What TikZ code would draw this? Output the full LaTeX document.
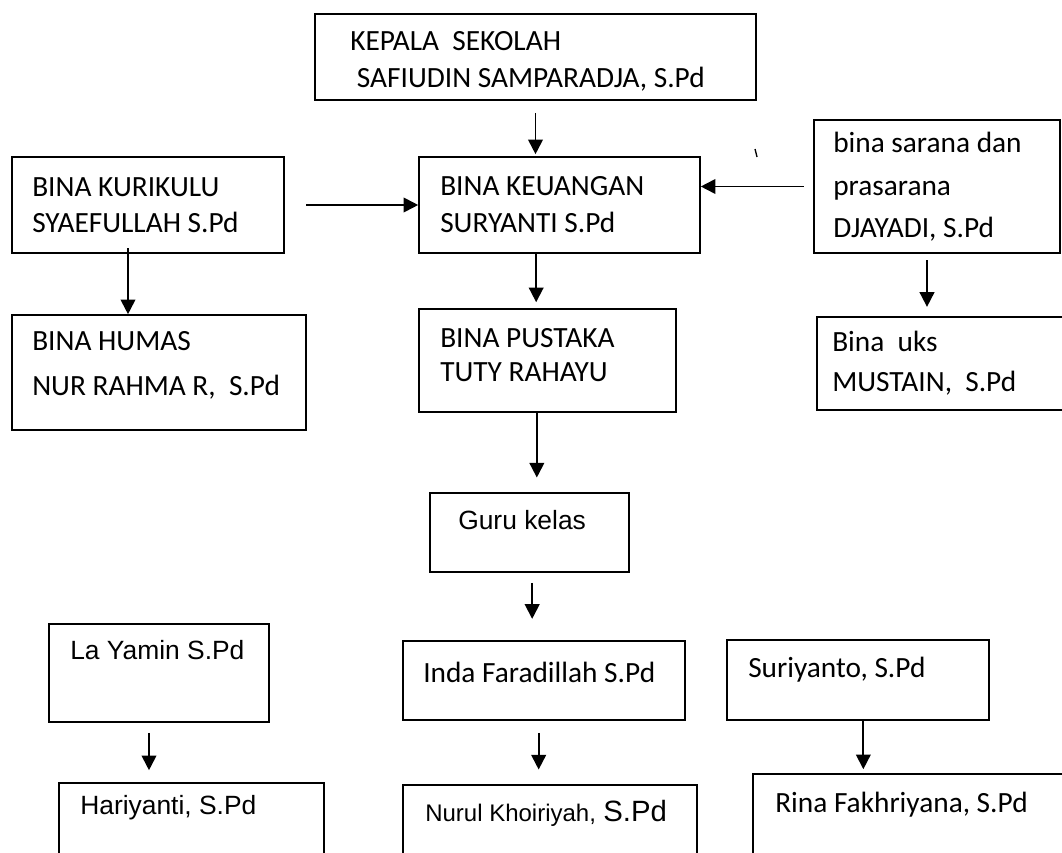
\documentclass[tikz,border=0pt]{standalone}
\usepackage{fontspec}
\setmainfont{Carlito}
\newfontfamily\arialfont{Liberation Sans}
\usetikzlibrary{arrows.meta}
\tikzset{
  orgbox/.style={draw=black,line width=1.2pt,inner sep=0pt},
  orgtext/.style={anchor=west,inner sep=0pt,align=left,font=\fontsize{22}{27.75}\selectfont},
  arialtext/.style={anchor=west,inner sep=0pt,font=\arialfont\fontsize{19.8}{24}\selectfont},
  orgarrow/.style={line width=1.4pt,-{Triangle[width=11pt,length=11pt]}}
}

\begin{document}
\begin{tikzpicture}[x=0.75pt,y=-0.75pt]
% page of 1062 x 852 px, y runs downwards
\useasboundingbox (0,0) rectangle (1062,852);
\clip (0,0) rectangle (1062,852);

% boxes
\node[orgbox,minimum width=330.75pt,minimum height=64.5pt] (kepala) at (535.5,57) {};
\node[orgbox,minimum width=210.75pt,minimum height=72pt] (keuangan) at (559.5,205) {};
\node[orgbox,minimum width=204pt,minimum height=72pt] (kurikulu) at (148,205) {};
\node[orgbox,minimum width=220.5pt,minimum height=86.25pt] (humas) at (159,372.5) {};
\node[orgbox,minimum width=184.5pt,minimum height=99.75pt] (sarana) at (937,186.5) {};
\node[orgbox,minimum width=188.25pt,minimum height=69.75pt] (uks) at (942.5,363.5) {};
\node[orgbox,minimum width=192.75pt,minimum height=77.25pt] (pustaka) at (547.5,360.5) {};
\node[orgbox,minimum width=149.25pt,minimum height=59.25pt] (guru) at (529.5,532.5) {};
\node[orgbox,minimum width=211.5pt,minimum height=59.25pt] (inda) at (544,680.5) {};
\node[orgbox,minimum width=220.5pt,minimum height=71.25pt] (nurul) at (550,832.5) {};
\node[orgbox,minimum width=165pt,minimum height=73.5pt] (layamin) at (159,673) {};
\node[orgbox,minimum width=198.75pt,minimum height=72.75pt] (hariyanti) at (191.5,831.5) {};
\node[orgbox,minimum width=196.5pt,minimum height=60pt] (suriyanto) at (858,680) {};
\node[orgbox,minimum width=236.25pt,minimum height=79.5pt] (rina) at (910.5,827) {};

% texts
\node[orgtext] (kepalatext) at (350,61.5) {KEPALA\ \ SEKOLAH\\\hspace*{5pt}SAFIUDIN SAMPARADJA, S.Pd};
\node[orgtext] (keuangantext) at (440,204.5) {BINA KEUANGAN\\SURYANTI S.Pd};
\node[orgtext,font=\fontsize{22}{27}\selectfont] (kurikulutext) at (32,205) {BINA KURIKULU\\SYAEFULLAH S.Pd};
\node[orgtext,font=\fontsize{22}{33.75}\selectfont] (humastext) at (32,365.5) {BINA HUMAS\\NUR RAHMA R,\ \ S.Pd};
\node[orgtext,font=\fontsize{22}{32}\selectfont] (saranatext) at (833,187) {bina sarana dan\\prasarana\\DJAYADI, S.Pd};
\node[orgtext,font=\fontsize{22}{30}\selectfont] (ukstext) at (832,363) {Bina\ \ uks\\MUSTAIN,\ \ S.Pd};
\node[orgtext,font=\fontsize{22}{25.5}\selectfont] (pustakatext) at (440,355) {BINA PUSTAKA\\TUTY RAHAYU};
\node[arialtext] (gurutext) at (458,520) {Guru kelas};
\node[orgtext] (indatext) at (423,672) {Inda Faradillah S.Pd};
\node[arialtext] (nurultext) at (425,813) {{\fontsize{18}{22}\selectfont Nurul Khoiriyah,} {\fontsize{22}{26}\selectfont S.Pd}};
\node[arialtext] (layamintext) at (70,650) {La Yamin S.Pd};
\node[arialtext] (hariyantitext) at (80,808) {Hariyanti, S.Pd};
\node[orgtext] (suriyantotext) at (748,670) {Suriyanto, S.Pd};
\node[orgtext] (rinatext) at (775,805) {Rina Fakhriyana, S.Pd};

% stray mark
\draw[line width=1pt] (755,149) -- (757,157);

% connectors
\draw[orgarrow,shorten <=9pt,shorten >=1.5pt] (kepala.south) -- (kepala.south |- keuangan.north);
\draw[orgarrow,shorten <=16pt] (kurikulu.east) -- (kurikulu.east -| keuangan.west);
\draw[orgarrow,shorten <=7pt] (sarana.west) -- (sarana.west -| keuangan.east);
\draw[orgarrow,shorten <=-4pt] ([xshift=-15pt]kurikulu.south) -- ([xshift=-15pt]kurikulu.south |- humas.north);
\draw[orgarrow,shorten <=5pt,shorten >=7pt] ([xshift=-7.5pt]sarana.south) -- ([xshift=-7.5pt]sarana.south |- uks.north);
\draw[orgarrow,shorten >=4.5pt] ([xshift=-17.5pt]keuangan.south) -- ([xshift=-17.5pt]keuangan.south |- pustaka.north);
\draw[orgarrow,shorten >=11pt] ([xshift=-8pt]pustaka.south) -- ([xshift=-8pt]pustaka.south |- guru.north);
\draw[orgarrow,shorten <=7.5pt,shorten >=16pt] ([xshift=2pt]guru.south) -- ([xshift=2pt]guru.south |- inda.north);
\draw[orgarrow,shorten <=9pt,shorten >=11pt] ([xshift=-4pt]inda.south) -- ([xshift=-4pt]inda.south |- nurul.north);
\draw[orgarrow,shorten <=7.5pt,shorten >=9pt] ([xshift=-7.5pt]layamin.south) -- ([xshift=-7.5pt]layamin.south |- hariyanti.north);
\draw[orgarrow,shorten >=3pt] ([xshift=4pt]suriyanto.south) -- ([xshift=4pt]suriyanto.south |- rina.north);
\end{tikzpicture}
\end{document}
